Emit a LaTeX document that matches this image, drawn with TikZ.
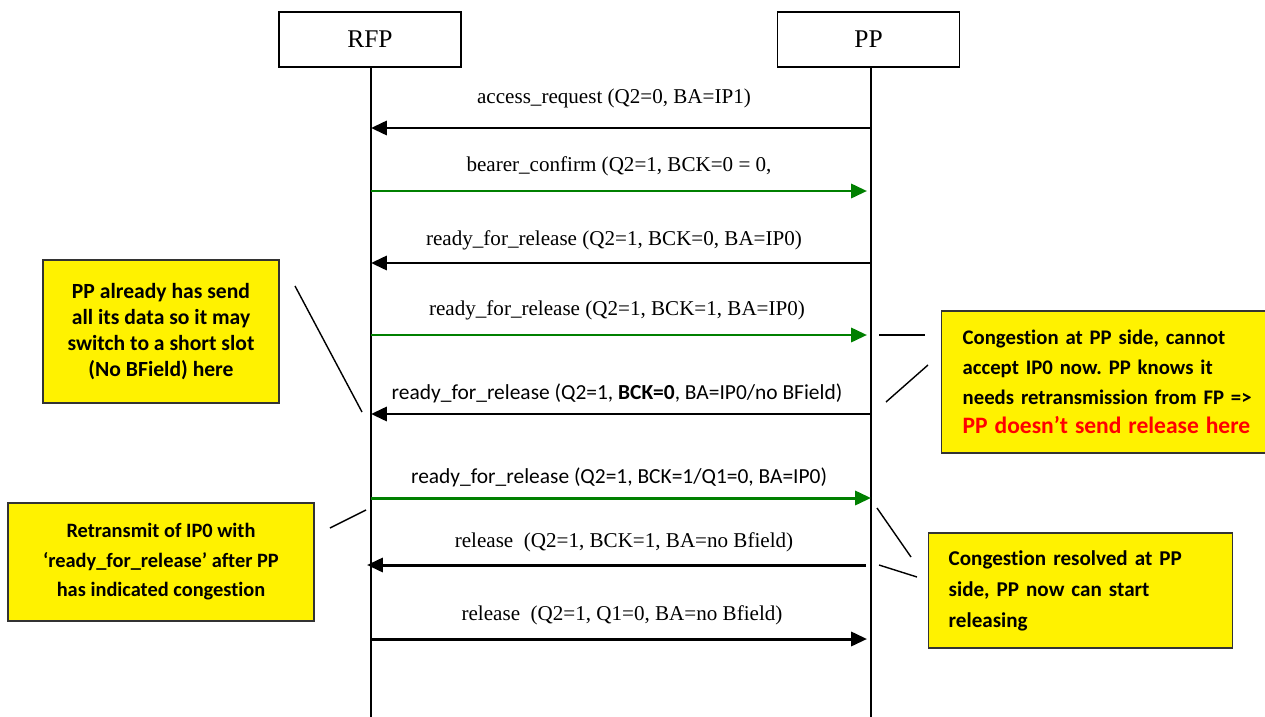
\documentclass[tikz,border=0pt]{standalone}
\usepackage{fontspec}
\setmainfont{Liberation Serif}
\newfontfamily\calibri[Ligatures=CommonOff]{Carlito}
\usetikzlibrary{arrows.meta}
\frenchspacing

\tikzset{
  head/.style={draw, line width=0.7pt, minimum width=3.64cm, minimum height=1.1cm,
    font=\fontsize{14.5}{16}\selectfont},
  life/.style={line width=1.1pt},
  msg/.style={line width=1.7pt, -{Triangle[length=9pt,width=8pt]}},
  okmsg/.style={msg, green!50!black},
  lbl/.style={inner sep=0pt, font=\fontsize{12}{14}\selectfont},
  clbl/.style={inner sep=0pt, font=\calibri\fontsize{12.2}{14}\selectfont},
  note/.style={draw=black!80, line width=0.8pt, fill=yellow, inner ysep=0pt,
    font=\calibri\bfseries\fontsize{11.8}{15}\selectfont},
  pointer/.style={line width=0.8pt},
}

\begin{document}
\begin{tikzpicture}[x=0.02cm, y=-0.02cm]
  \useasboundingbox (0,0) rectangle (1265,717);

  % Entities
  \node[head] (rfp) at (370,39.5) {RFP};
  \node[head] (pp) at (868.5,39.5) {PP};

  % Lifelines
  \coordinate (rfpend) at (371,717);
  \coordinate (ppend) at (871,717);
  \draw[life] (rfp.south -| rfpend) -- (rfpend);
  \draw[life] (pp.south -| ppend) -- (ppend);

  % Messages
  \coordinate (p1) at (871,128); \coordinate (r1) at (371,128);
  \node[lbl] (m1) at (614,98) {access\_request (Q2=0, BA=IP1)};
  \draw[msg] (p1) -- (r1);

  \coordinate (r2) at (371,191); \coordinate (p2) at (867,191);
  \node[lbl] (m2) at (619,166) {bearer\_confirm (Q2=1, BCK=0 = 0,};
  \draw[okmsg] (r2) -- (p2);

  \coordinate (p3) at (871,263); \coordinate (r3) at (371,263);
  \node[lbl] (m3) at (614,240) {ready\_for\_release (Q2=1, BCK=0, BA=IP0)};
  \draw[msg] (p3) -- (r3);

  \coordinate (r4) at (371,335); \coordinate (p4) at (867,335);
  \node[lbl] (m4) at (617,310) {ready\_for\_release (Q2=1, BCK=1, BA=IP0)};
  \draw[okmsg] (r4) -- (p4);

  \coordinate (p5) at (871,414); \coordinate (r5) at (371,414);
  \node[clbl] (m5) at (617,393) {ready\_for\_release (Q2=1, \textbf{BCK=0}, BA=IP0/no BField)};
  \draw[msg] (p5) -- (r5);

  \coordinate (r6) at (371,498); \coordinate (p6) at (871,498);
  \node[clbl] (m6) at (619,477) {ready\_for\_release (Q2=1, BCK=1/Q1=0, BA=IP0)};
  \draw[okmsg] (r6) -- (p6);

  \coordinate (p7) at (866,565); \coordinate (r7) at (367,565);
  \node[lbl] (m7) at (624,542) {release\ \ (Q2=1, BCK=1, BA=no Bfield)};
  \draw[msg] (p7) -- (r7);

  \coordinate (r8) at (371,639); \coordinate (p8) at (867,639);
  \node[lbl] (m8) at (622,615) {release\ \ (Q2=1, Q1=0, BA=no Bfield)};
  \draw[msg] (r8) -- (p8);

  % Notes
  \node[note, align=center, minimum width=4.72cm, minimum height=2.86cm,
    font=\calibri\bfseries\fontsize{12.3}{14.8}\selectfont] (shortslot) at (161,331.5)
    {PP already has send\\all its data so it may\\switch to a short slot\\(No BField) here};
  \node[note, align=center, minimum width=6.12cm, minimum height=2.36cm,
    font=\calibri\bfseries\fontsize{11.6}{16.8}\selectfont] (retx) at (161,562)
    {Retransmit of IP0 with\\‘ready\_for\_release’ after PP\\has indicated congestion};
  \node[note, anchor=west, align=left, text width=6.4cm, inner xsep=0.42cm, minimum height=2.84cm,
    font=\calibri\bfseries\fontsize{11.8}{17}\selectfont] (congest) at (941,382)
    {Congestion at PP side, cannot\\accept IP0 now. PP knows it\\needs retransmission from FP =>\\
     {\color{red}\fontsize{13.4}{18}\selectfont PP doesn’t send release here}};
  \node[note, anchor=west, align=left, text width=5.28cm, inner xsep=0.4cm, minimum height=2.3cm,
    font=\calibri\bfseries\fontsize{12}{17.6}\selectfont] (resolved) at (928,590.5)
    {Congestion resolved at PP\\side, PP now can start\\releasing};

  % Pointers
  \coordinate (s1) at (295,286); \coordinate (s2) at (362,412);
  \draw[pointer] (s1) -- (s2);
  \coordinate (t1) at (330,528); \coordinate (t2) at (366,510);
  \draw[pointer] (t1) -- (t2);
  \coordinate (c1) at (879,335); \coordinate (c2) at (925,335);
  \draw[pointer] (c1) -- (c2);
  \coordinate (c3) at (886,402); \coordinate (c4) at (928,365);
  \draw[pointer] (c3) -- (c4);
  \coordinate (e1) at (877,508); \coordinate (e2) at (911,557);
  \draw[pointer] (e1) -- (e2);
  \coordinate (e3) at (879,565); \coordinate (e4) at (917,577);
  \draw[pointer] (e3) -- (e4);
\end{tikzpicture}
\end{document}
